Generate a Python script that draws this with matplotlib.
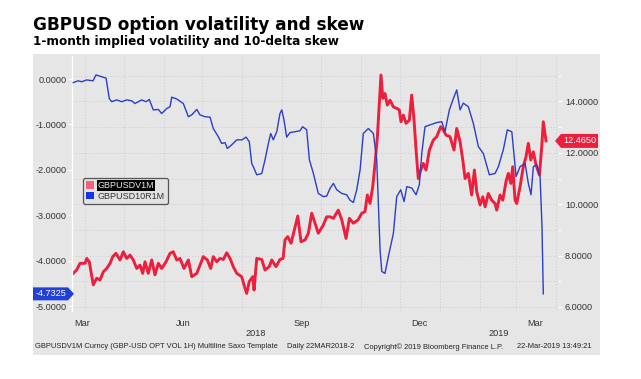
import numpy as np
import pandas as pd
import matplotlib
matplotlib.use('Agg')
import matplotlib.pyplot as plt
from matplotlib.patches import Polygon, Rectangle, Patch
from matplotlib.transforms import IdentityTransform
from matplotlib.ticker import FormatStrFormatter

plt.rcParams['font.family'] = ['Liberation Sans', 'DejaVu Sans']

start = pd.Timestamp('2018-03-22')

# GBPUSD10R1M (10-delta skew, left axis) -- day offsets from start, values
skew_days = [1.0, 4.7, 7.5, 11.4, 16.3, 18.6, 23.0, 26.4, 28.9, 30.8, 34.7, 38.5,
             42.4, 46.3, 48.8, 54.0, 57.4, 59.9, 63.0, 66.9, 69.5, 73.4, 76.0, 77.3,
             81.2, 86.3, 90.2, 92.8, 96.7, 99.2, 103.1, 107.0, 109.5, 113.4, 116.0,
             118.6, 120.4, 123.8, 127.7, 131.8, 134.9, 137.4, 139.3, 140.5, 143.2,
             147.1, 149.6, 152.2, 154.0, 156.0, 158.7, 161.2, 162.6, 164.3, 166.4,
             169.0, 172.9, 176.7, 178.8, 181.9, 184.0, 187.1, 190.9, 194.8, 197.4,
             200.0, 202.6, 205.2, 209.1, 212.9, 215.5, 218.1, 220.7, 223.3, 225.8,
             229.7, 233.6, 236.2, 238.8, 240.1, 242.6, 245.2, 249.1, 251.7, 254.8,
             257.4, 259.5, 263.3, 266.7, 269.2, 271.1, 273.6, 277.5, 282.7, 286.6,
             289.1, 292.5, 295.6, 298.2, 300.8, 303.3, 307.2, 311.1, 315.0, 318.8,
             323.5, 327.9, 330.5, 334.3, 337.4, 340.9, 344.2, 347.3, 351.2, 353.7,
             355.8, 357.6, 360.2, 362.8, 364.3, 365.3]
skew_vals = [-0.08, -0.04, -0.06, -0.02, -0.04, 0.09, 0.05, 0.02, -0.43, -0.50, -0.46, -0.50,
             -0.46, -0.48, -0.54, -0.46, -0.50, -0.45, -0.68, -0.67, -0.76, -0.65, -0.61, -0.40,
             -0.44, -0.54, -0.83, -0.79, -0.67, -0.79, -0.83, -0.84, -1.09, -1.27, -1.42,
             -1.40, -1.53, -1.45, -1.34, -1.34, -1.28, -1.38, -1.86, -1.93, -2.11,
             -2.08, -1.78, -1.42, -1.20, -1.34, -1.16, -0.76, -0.68, -0.90, -1.28,
             -1.18, -1.16, -1.14, -1.05, -1.12, -1.78, -2.08, -2.52, -2.59, -2.58,
             -2.41, -2.30, -2.44, -2.52, -2.55, -2.67, -2.72, -2.44, -2.00, -1.20,
             -1.09, -1.20, -1.78, -3.77, -4.24, -4.28, -3.91, -3.40, -2.59, -2.44,
             -2.70, -2.37, -2.40, -2.55, -2.33, -1.64, -1.05, -1.01, -0.96, -0.94,
             -1.16, -0.68, -0.43, -0.24, -0.68, -0.53, -0.61, -0.98, -1.49, -1.64,
             -2.11, -2.08, -1.93, -1.56, -1.12, -1.16, -2.15, -1.93, -1.86, -2.30,
             -2.55, -1.93, -1.89, -2.15, -3.25, -4.7325]

# GBPUSDV1M (1-month implied vol, right axis)
vol_days = [1.0, 3.6, 6.2, 10.1, 11.4, 13.4, 16.5, 19.1, 21.7, 24.3, 26.9, 29.5, 31.6,
            34.1, 37.2, 39.8, 42.4, 45.0, 47.5, 50.2, 52.7, 54.8, 56.6, 59.1, 61.8,
            64.3, 66.9, 69.5, 72.9, 76.0, 78.5, 81.2, 83.7, 86.8, 90.2, 92.8, 96.7,
            99.2, 101.8, 104.9, 107.5, 109.5, 112.2, 114.7, 117.3, 119.9, 122.5,
            125.0, 127.7, 131.5, 134.1, 135.4, 137.4, 140.1, 141.1, 143.2, 147.1,
            149.6, 152.9, 154.8, 158.1, 161.2, 163.6, 165.1, 167.2, 169.8, 172.9,
            175.0, 177.5, 180.6, 183.2, 185.8, 188.4, 190.9, 194.8, 197.4, 200.0,
            202.6, 206.4, 209.1, 212.4, 215.0, 218.1, 221.7, 224.6, 227.1, 228.9,
            231.0, 233.1, 234.9, 236.7, 238.2, 239.5, 240.9, 242.6, 244.4, 246.5,
            249.1, 251.7, 253.7, 255.0, 256.8, 258.9, 261.5, 263.3, 265.1, 266.7,
            268.4, 270.3, 272.3, 274.4, 277.0, 280.1, 282.7, 285.8, 287.8, 289.9,
            293.0, 296.1, 298.2, 300.8, 302.9, 304.7, 307.2, 309.8, 311.9, 313.7,
            316.3, 318.4, 320.2, 322.7, 325.3, 327.9, 329.2, 331.8, 333.9, 336.4,
            338.2, 340.1, 341.6, 343.4, 344.7, 347.3, 349.8, 351.9, 353.7, 355.6,
            357.6, 359.7, 362.3, 364.1, 365.3, 367.4]
vol_vals = [7.31, 7.44, 7.70, 7.70, 7.89, 7.76, 6.86, 7.12, 7.05, 7.37, 7.50, 7.70, 7.96,
            8.09, 7.83, 8.15, 7.89, 8.02, 7.83, 7.50, 7.63, 7.31, 7.76, 7.31, 7.83,
            7.25, 7.70, 7.50, 7.76, 8.09, 8.15, 7.83, 7.89, 7.50, 7.83, 7.18, 7.31,
            7.63, 7.96, 7.83, 7.50, 7.96, 7.76, 7.89, 7.85, 8.11, 7.89,
            7.57, 7.31, 7.18, 6.73, 6.53, 6.99, 7.18, 6.66, 7.89, 7.85,
            7.44, 7.57, 7.83, 7.57, 7.85, 7.89, 8.61, 8.74, 8.48, 9.12,
            9.54, 8.54, 8.61, 8.87, 9.65, 9.26, 8.87, 9.19, 9.51, 9.51,
            9.45, 9.77, 9.39, 8.67, 9.45, 9.26, 9.39, 9.65, 9.71, 10.36,
            10.03, 10.68, 11.59, 12.63, 13.93, 15.03, 14.12, 14.31, 13.86, 14.05,
            13.79, 13.73, 13.67, 13.21, 13.47, 13.15, 13.28, 14.25, 13.28, 12.11,
            11.00, 11.33, 11.59, 11.33, 12.11, 12.50, 12.63, 13.02, 12.89, 12.69,
            12.63, 12.11, 12.95, 12.43, 11.72, 11.00, 11.20, 10.36, 11.33, 10.49,
            9.97, 10.29, 9.90, 10.42, 10.16, 10.03, 9.77, 10.36, 10.16, 10.88,
            11.20, 10.81, 11.46, 10.16, 10.03, 10.68, 11.46, 11.85, 12.37, 11.72,
            12.04, 11.52, 11.14, 12.24, 13.21, 12.465]

left_ticks = [0, -1, -2, -3, -4, -5]
right_ticks = [6, 8, 10, 12, 14]
month_labels = ['Mar', 'Jun', 'Sep', 'Dec', 'Mar']
month_label_dates = ['2018-03-30', '2018-06-16', '2018-09-16', '2018-12-16', '2019-03-16']
year_labels = ['2018', '2019']
year_label_dates = ['2018-08-11', '2019-02-16']
series_names = ['GBPUSDV1M', 'GBPUSD10R1M']

skew_dates = start + pd.to_timedelta(skew_days, unit='D')
vol_dates = start + pd.to_timedelta(vol_days, unit='D')

W, H = 641, 379
bg = '#e6e6e6'
red = '#ec1f3d'
blue = '#2b3ec8'
txt = '#333333'

fig = plt.figure(figsize=(W / 100, H / 100), dpi=100)
fig.patches.append(Rectangle((33 / W, 1 - 355 / H), (600 - 33) / W, (355 - 54) / H,
                             transform=fig.transFigure, fc=bg, ec='none', zorder=-5))

ax = fig.add_axes([72 / W, 1 - 311 / H, (558 - 72) / W, (311 - 56) / H])
ax.set_facecolor(bg)
ax2 = ax.twinx()
ax2.patch.set_visible(False)

# red vol on right axis
ax.yaxis.tick_right()
ax.set_ylim(5.844, 15.77)
ax.set_yticks(right_ticks)
ax.set_yticks([7, 9, 11, 13, 15], minor=True)
ax.yaxis.set_major_formatter(FormatStrFormatter('%.4f'))
ax.plot(vol_dates, vol_vals, color=red, lw=2.1, solid_joinstyle='round', zorder=3)

# blue skew on left axis
ax2.yaxis.tick_left()
ax2.set_ylim(-5.11, 0.507)
ax2.set_yticks(left_ticks)
ax2.yaxis.set_major_formatter(FormatStrFormatter('%.4f'))
ax2.plot(skew_dates, skew_vals, color=blue, lw=1.0, zorder=3)

ax.set_xlim(start, start + pd.Timedelta(days=376.7))
ax.set_xticks(pd.to_datetime(month_label_dates))
ax.set_xticklabels(month_labels)
ax.set_xticks(pd.date_range('2018-04-01', '2019-04-01', freq='MS'), minor=True)

grid_kw = dict(color='#cbcbd3', linestyle=(0, (1, 2)), lw=0.7)
ax.grid(which='both', axis='y', **grid_kw)
ax.grid(which='minor', axis='x', **grid_kw)
ax.set_axisbelow(True)

for a in (ax, ax2):
    for s in a.spines.values():
        s.set_visible(False)
ax2.spines['left'].set_visible(True)
ax2.spines['left'].set_color('white')
ax2.spines['left'].set_linewidth(1.0)

ax.tick_params(axis='x', which='both', length=0, pad=6, labelsize=6.6, labelcolor=txt)
ax.tick_params(axis='y', which='major', color='white', length=3, width=0.8, pad=2,
               labelsize=6.6, labelcolor=txt)
ax.tick_params(axis='y', which='minor', color='white', length=2, width=0.8)
ax2.tick_params(axis='y', which='major', color='white', length=3, width=0.8, pad=1,
                labelsize=6.6, labelcolor=txt)

for lab, d in zip(year_labels, year_label_dates):
    ax.text(pd.Timestamp(d), -0.09, lab, transform=ax.get_xaxis_transform(),
            ha='center', va='center', fontsize=6.6, color=txt)

# legend
handles = [Patch(fc='#f26475', ec='none'), Patch(fc='#1434e6', ec='none')]
leg = fig.legend(handles, series_names, loc='upper left',
                 bbox_to_anchor=(83 / W, 1 - 178 / H), bbox_transform=fig.transFigure,
                 fontsize=6.5, handlelength=0.9, handleheight=0.9, handletextpad=0.4,
                 borderpad=0.35, labelspacing=0.15, fancybox=True, framealpha=1,
                 edgecolor='#555555', facecolor='#e2e2e2', borderaxespad=0)
leg.get_frame().set_linewidth(0.9)
t0 = leg.get_texts()[0]
t0.set_color('#e8e8e8')
t0.set_bbox(dict(fc='black', ec='none', pad=0.6))
leg.get_texts()[1].set_color(txt)

# last value tags
fig.canvas.draw()
ry = ax.transData.transform((ax.get_xlim()[0], vol_vals[-1]))[1]
fig.add_artist(Polygon([(555, ry), (561, ry + 7), (598, ry + 7), (598, ry - 7), (561, ry - 7)],
                       closed=True, fc=red, ec='none', transform=IdentityTransform()))
fig.text(580 / W, ry / H, '%.4f' % vol_vals[-1], color='white', fontsize=6.6,
         ha='center', va='center')
by = ax2.transData.transform((ax.get_xlim()[0], skew_vals[-1]))[1]
fig.add_artist(Polygon([(33, by + 6.5), (68, by + 6.5), (74, by), (68, by - 6.5), (33, by - 6.5)],
                       closed=True, fc='#2040d8', ec='none', transform=IdentityTransform()))
fig.text(51 / W, by / H, '%.4f' % skew_vals[-1], color='white', fontsize=6.6,
         ha='center', va='center')

# titles and footer
fig.text(33 / W, 1 - 25 / H, 'GBPUSD option volatility and skew', fontsize=12.2,
         weight='bold', family='DejaVu Sans', va='center', color='black')
fig.text(33 / W, 1 - 42 / H, '1-month implied volatility and 10-delta skew', fontsize=8.7,
         weight='bold', family='DejaVu Sans', va='center', color='black')

footer = [(35, 'GBPUSDV1M Curncy (GBP-USD OPT VOL 1H) Multiline Saxo Template'),
          (287, 'Daily 22MAR2018-2'),
          (364, 'Copyright\u00a9 2019 Bloomberg Finance L.P.'),
          (517, '22-Mar-2019 13:49:21')]
for x, s in footer:
    fig.text(x / W, 1 - 347 / H, s, fontsize=5.4, color='#222222', va='center')

fig.savefig('out.png', dpi=100)
